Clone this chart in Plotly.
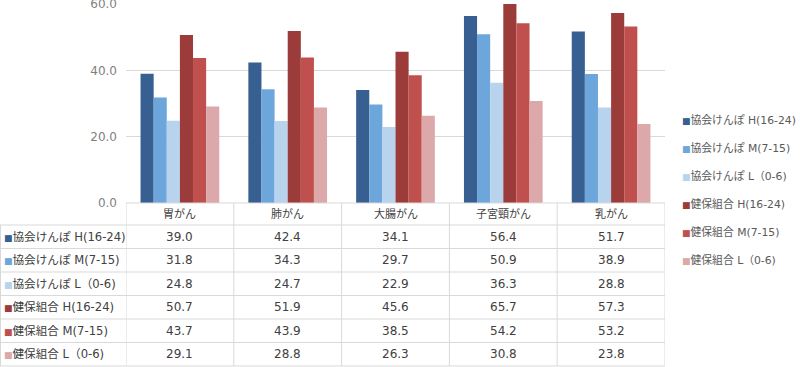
import plotly.graph_objects as go

categories = ["胃がん", "肺がん", "大腸がん", "子宮頸がん", "乳がん"]
series_names = ["協会けんぽ H(16-24)", "協会けんぽ M(7-15)", "協会けんぽ L（0-6)",
                "健保組合 H(16-24)", "健保組合 M(7-15)", "健保組合 L（0-6)"]
kyokai_h = [39.0, 42.4, 34.1, 56.4, 51.7]
kyokai_m = [31.8, 34.3, 29.7, 50.9, 38.9]
kyokai_l = [24.8, 24.7, 22.9, 36.3, 28.8]
kenpo_h = [50.7, 51.9, 45.6, 65.7, 57.3]
kenpo_m = [43.7, 43.9, 38.5, 54.2, 53.2]
kenpo_l = [29.1, 28.8, 26.3, 30.8, 23.8]
series_values = [kyokai_h, kyokai_m, kyokai_l, kenpo_h, kenpo_m, kenpo_l]
colors = ["#375F92", "#6CA6DA", "#B8D3EE", "#9B3C3B", "#C0504D", "#DDA8A9"]
y_ticks = [0, 20, 40, 60]

W, H = 800, 367
FONT = "DejaVu Sans, Noto Sans CJK JP, sans-serif"
GRID = "#d9d9d9"

plot_l, plot_r = 126, 665
plot_top, plot_bot = 4, 203
header_h = 22
row_h = 23.5


def px(x):
    return x / W


def py(y):
    return 1 - y / H


def square_label(color, name, size=9):
    return (f"<span style='color:{color};font-size:{size}px'>■</span>"
            + name.replace(" ", "\u00a0"))


fig = go.Figure()
for i, (name, vals) in enumerate(zip(series_names, series_values)):
    fig.add_trace(go.Bar(
        x=categories, y=vals, name=name, showlegend=False,
        marker=dict(color=colors[i], line=dict(width=0)),
    ))
# legend entries (text carries the coloured square)
for i, name in enumerate(series_names):
    fig.add_trace(go.Scatter(
        x=[None], y=[None], mode="markers", name=square_label(colors[i], name),
        marker=dict(color="rgba(0,0,0,0)", size=1, line=dict(width=0)),
        legendgroup=str(i), showlegend=True, hoverinfo="skip",
    ))

annotations = []
shapes = []

# header row: category names
for c in categories:
    annotations.append(dict(x=c, xref="x", y=py(plot_bot + header_h / 2), yref="paper",
                            text=c, showarrow=False, xanchor="center", yanchor="middle",
                            font=dict(family=FONT, size=11, color="#404040")))
# body rows
for s, (name, vals) in enumerate(zip(series_names, series_values)):
    yc = plot_bot + header_h + row_h * (s + 0.5)
    annotations.append(dict(x=px(2), xref="paper", y=py(yc), yref="paper",
                            text=square_label(colors[s], name),
                            showarrow=False, xanchor="left", yanchor="middle",
                            font=dict(family=FONT, size=11.6, color="#404040")))
    for c, v in zip(categories, vals):
        annotations.append(dict(x=c, xref="x", y=py(yc), yref="paper",
                                text=f"{v:.1f}", showarrow=False,
                                xanchor="center", yanchor="middle",
                                font=dict(family=FONT, size=12, color="#404040")))

# table grid lines
line = dict(color=GRID, width=1)
for r in range(7):
    y = plot_bot + header_h + row_h * r
    shapes.append(dict(type="line", xref="paper", yref="paper",
                       x0=px(0), x1=px(plot_r), y0=py(y), y1=py(y), line=line))
shapes.append(dict(type="line", xref="paper", yref="paper",
                   x0=px(plot_l), x1=px(plot_r), y0=py(plot_bot), y1=py(plot_bot), line=line))
shapes.append(dict(type="line", xref="paper", yref="paper",
                   x0=px(0.5), x1=px(0.5), y0=py(plot_bot + header_h), y1=py(H - 1), line=line))
for k in range(len(categories) + 1):
    shapes.append(dict(type="line", xref="x", yref="paper",
                       x0=k - 0.5, x1=k - 0.5, y0=py(plot_bot), y1=py(H - 1), line=line))

fig.update_layout(
    width=W, height=H, autosize=False,
    margin=dict(l=0, r=0, t=0, b=0, pad=0, autoexpand=False),
    paper_bgcolor="white", plot_bgcolor="white",
    barmode="group", bargap=0.27, bargroupgap=0,
    font=dict(family=FONT, size=11, color="#595959"),
    xaxis=dict(domain=[px(plot_l), px(plot_r)], showticklabels=False,
               range=[-0.5, len(categories) - 0.5],
               showgrid=False, showline=False, zeroline=False, fixedrange=True),
    yaxis=dict(domain=[py(plot_bot), py(plot_top)], range=[0, 60.02],
               tickvals=y_ticks, tickformat=".1f", ticklabeloverflow="allow",
               showgrid=True, gridcolor=GRID, gridwidth=1,
               zeroline=False, showline=False, ticks="", ticklabelstandoff=8,
               tickfont=dict(family=FONT, size=12, color="#7f7f7f")),
    legend=dict(x=px(642), xanchor="left", y=py(190), yanchor="middle",
                tracegroupgap=9, font=dict(family=FONT, size=10.8, color="#595959"),
                itemwidth=30, bgcolor="rgba(0,0,0,0)", itemclick=False,
                itemdoubleclick=False),
    showlegend=True,
    annotations=annotations,
    shapes=shapes,
)

post = ("var s=document.createElement('style');"
        "s.textContent='html,body{margin:0;padding:0;width:800px;height:367px;overflow:hidden;}"
        "body>div{line-height:0;font-size:0;height:367px;overflow:hidden;}';"
        "document.head.appendChild(s);")

fig.write_html("out.html", config={"displayModeBar": False, "responsive": False},
               post_script=post)
